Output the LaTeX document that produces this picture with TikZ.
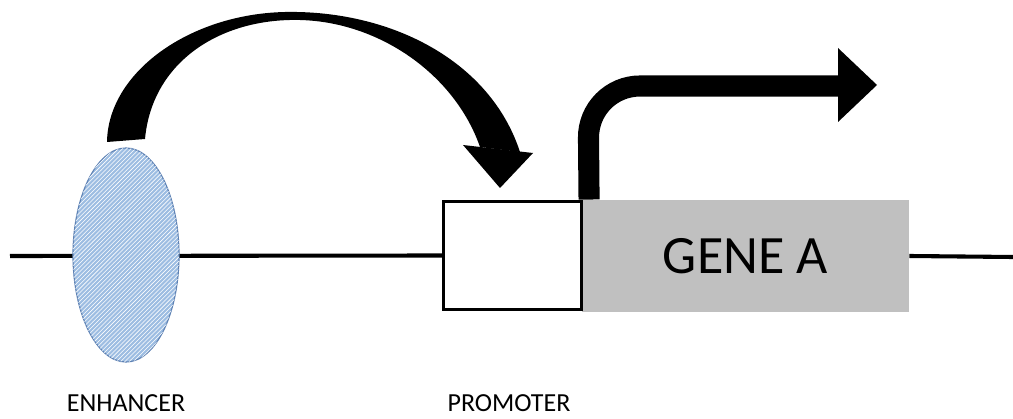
\documentclass[tikz,border=0pt]{standalone}
\usepackage{fontspec}
\setmainfont{Carlito}
\usetikzlibrary{shapes.geometric,patterns,backgrounds}
\definecolor{enhblue}{HTML}{9DBDE2}
\definecolor{enhedge}{HTML}{5E82B4}
\definecolor{genegray}{HTML}{C0C0C0}
\begin{document}
\begin{tikzpicture}[x=0.025cm,y=-0.025cm,
  dnaline/.style={line width=2.9pt,black},
  enhshape/.style={ellipse,draw=enhedge,line width=0.8pt,fill=enhblue,
    postaction={pattern=north east lines,pattern color=white},
    minimum width=2.65cm,minimum height=5.35cm,inner sep=0pt},
  promshape/.style={rectangle,draw=black,line width=2.2pt,fill=white,
    minimum width=3.45cm,minimum height=2.72cm,inner sep=0pt},
  geneshape/.style={rectangle,fill=genegray,
    minimum width=8.175cm,minimum height=2.8cm,inner sep=0pt,
    font=\fontsize{38.4}{40}\selectfont},
  lbl/.style={anchor=base,font=\fontsize{18.5}{20}\selectfont,inner sep=0pt},
  bigarrow/.style={black}]
\useasboundingbox (0,0) rectangle (1013,419);
% nodes
\node[geneshape] (gene) at (745.5,256) {GENE A};
\node[promshape] (prom) at (512.5,255.5) {};
\node[enhshape] (enh) at (126,255) {};
\node[lbl] (enhlbl) at (126,411) {ENHANCER};
\node[lbl] (promlbl) at (509,411) {PROMOTER};
\coordinate (lstart) at (10,256);
\coordinate (lend) at (1013,257);
% DNA line
\begin{pgfonlayer}{background}
\draw[dnaline] (lstart) -- (prom.west);
\end{pgfonlayer}
\draw[dnaline] (gene.east) -- (lend);
% curved arrow enhancer -> promoter
\fill[bigarrow] (107,142) .. controls (108,72) and (190,14) .. (285,12)
  .. controls (390,10) and (490,60) .. (520,152)
  -- (480,147) .. controls (455,75) and (380,22) .. (300,20)
  .. controls (220,18) and (152,62) .. (145,139) -- cycle;
\fill[bigarrow] (463,145) -- (533,153) -- (500,188) -- cycle;
% transcription arrow
\coordinate (tss) at ([xshift=0.15cm]prom.north east);
\coordinate (tip) at (877,85);
\draw[line width=15pt,rounded corners=1.3cm] (tss) -- (588,86) -- (840,86);
\fill[bigarrow] (838,48) -- (tip) -- (838,122) -- cycle;
\end{tikzpicture}
\end{document}
